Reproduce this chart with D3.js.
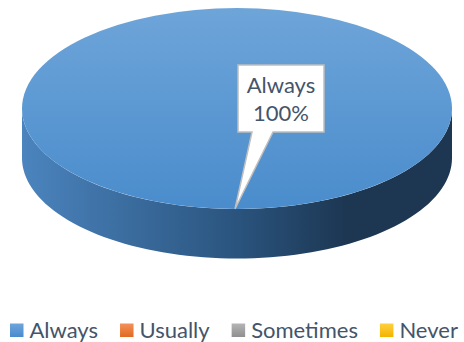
<!DOCTYPE html>
<html>
<head>
<meta charset="utf-8">
<script src="https://cdn.jsdelivr.net/npm/d3@7"></script>
<style>
  html, body { margin: 0; padding: 0; background: #ffffff; }
  svg { display: block; }
</style>
</head>
<body>
<div id="chart"></div>
<script>
// ---- data ----
const categories = ["Always", "Usually", "Sometimes", "Never"];
const values = [100, 0, 0, 0];
const percentLabels = ["100%", "0%", "0%", "0%"];

// ---- styles ----
const topColors = [["#6ea5d9", "#4a8ccc"], ["#f4a06a", "#e06f25"], ["#bdbdbd", "#929292"], ["#ffd24d", "#f0b400"]];
const sideColors = [["#4b84be", "#2a547e", "#1d3753"], ["#d97330", "#a5541f", "#7a3b12"], ["#9a9a9a", "#707070", "#505050"], ["#e0a800", "#b08300", "#7f5f00"]];
const legendColors = [["#6ea5dc", "#4a8bcc"], ["#f4915a", "#e06a22"], ["#b5b5b5", "#8f8f8f"], ["#ffd040", "#f2b400"]];
const textColor = "#44546A";
const fontFamily = "Lato, 'Open Sans', sans-serif";

const W = 464, H = 342;
const cx = 237, cy = 108.5, rx = 215, ry = 100.5, depth = 49.5;

const svg = d3.select("#chart").append("svg")
  .attr("width", W).attr("height", H)
  .attr("viewBox", `0 0 ${W} ${H}`);

const defs = svg.append("defs");

const pie = d3.pie().sort(null).value(d => d)
  .startAngle(0).endAngle(2 * Math.PI);
const arcs = pie(values);

// gradients
categories.forEach((c, i) => {
  const tg = defs.append("linearGradient").attr("id", "top" + i)
    .attr("x1", 0).attr("y1", 0).attr("x2", 0).attr("y2", 1);
  tg.append("stop").attr("offset", "0%").attr("stop-color", topColors[i][0]);
  tg.append("stop").attr("offset", "100%").attr("stop-color", topColors[i][1]);

  const sg = defs.append("linearGradient").attr("id", "side" + i)
    .attr("gradientUnits", "userSpaceOnUse")
    .attr("x1", cx - rx).attr("y1", 0).attr("x2", cx + rx).attr("y2", 0);
  sg.append("stop").attr("offset", "0%").attr("stop-color", sideColors[i][0]);
  sg.append("stop").attr("offset", "50%").attr("stop-color", sideColors[i][1]);
  sg.append("stop").attr("offset", "75%").attr("stop-color", sideColors[i][2]);
  sg.append("stop").attr("offset", "100%").attr("stop-color", sideColors[i][2]);

  const lg = defs.append("linearGradient").attr("id", "leg" + i)
    .attr("x1", 0).attr("y1", 0).attr("x2", 0).attr("y2", 1);
  lg.append("stop").attr("offset", "0%").attr("stop-color", legendColors[i][0]);
  lg.append("stop").attr("offset", "100%").attr("stop-color", legendColors[i][1]);
});

// point on ellipse for d3 angle convention (0 at top, clockwise)
const px = a => cx + rx * Math.sin(a);
const py = (a, dz = 0) => cy - ry * Math.cos(a) + dz;

// sides (front-facing parts)
const sideG = svg.append("g");
arcs.forEach((d, i) => {
  if (d.endAngle - d.startAngle <= 0) return;
  const a0 = Math.max(d.startAngle, Math.PI / 2);
  const a1 = Math.min(d.endAngle, 3 * Math.PI / 2);
  if (a1 <= a0) return;
  const n = 80;
  const topPts = d3.range(n + 1).map(k => a0 + (a1 - a0) * k / n);
  let p = d3.path();
  p.moveTo(px(topPts[0]), py(topPts[0]));
  topPts.forEach(a => p.lineTo(px(a), py(a)));
  topPts.slice().reverse().forEach(a => p.lineTo(px(a), py(a, depth)));
  p.closePath();
  sideG.append("path").attr("d", p.toString()).attr("fill", `url(#side${i})`);
});

// top faces
const arcGen = d3.arc().innerRadius(0).outerRadius(rx);
const topG = svg.append("g").attr("transform", `translate(${cx},${cy}) scale(1,${ry / rx})`);
arcs.forEach((d, i) => {
  if (d.endAngle - d.startAngle <= 0) return;
  topG.append("path").attr("d", arcGen(d))
    .attr("fill", `url(#top${i})`);
});

// data label callout
arcs.forEach((d, i) => {
  if (d.value <= 0) return;
  const mid = (d.startAngle + d.endAngle) / 2;
  const tipX = px(mid) - 2, tipY = py(mid);
  const bx0 = 238, bx1 = 324, by0 = 65, by1 = 132;
  const p = d3.path();
  p.moveTo(bx0, by0);
  p.lineTo(bx1, by0);
  p.lineTo(bx1, by1);
  p.lineTo(273, by1);
  p.lineTo(tipX, tipY);
  p.lineTo(252, by1);
  p.lineTo(bx0, by1);
  p.closePath();
  svg.append("path").attr("d", p.toString())
    .attr("fill", "#ffffff").attr("stroke", "#bfbfbf").attr("stroke-width", 1.5)
    .attr("stroke-linejoin", "miter");
  const tx = (bx0 + bx1) / 2;
  svg.append("text").attr("x", tx).attr("y", 92.5)
    .attr("text-anchor", "middle").attr("font-family", fontFamily)
    .attr("font-size", 22).attr("fill", textColor).text(categories[i]);
  svg.append("text").attr("x", tx).attr("y", 120.5)
    .attr("text-anchor", "middle").attr("font-family", fontFamily)
    .attr("font-size", 22).attr("fill", textColor).text(percentLabels[i]);
});

// legend
const legend = svg.append("g");
let lx = 10;
const ly = 323.5, box = 13.5;
categories.forEach((c, i) => {
  legend.append("rect").attr("x", lx).attr("y", ly).attr("width", box).attr("height", box)
    .attr("fill", `url(#leg${i})`);
  const t = legend.append("text").attr("x", lx + box + 6).attr("y", 338)
    .attr("font-family", fontFamily).attr("font-size", 22)
    .attr("fill", textColor).text(c);
  const w = t.node().getComputedTextLength();
  lx = lx + box + 6 + w + 22;
});
</script>
</body>
</html>
